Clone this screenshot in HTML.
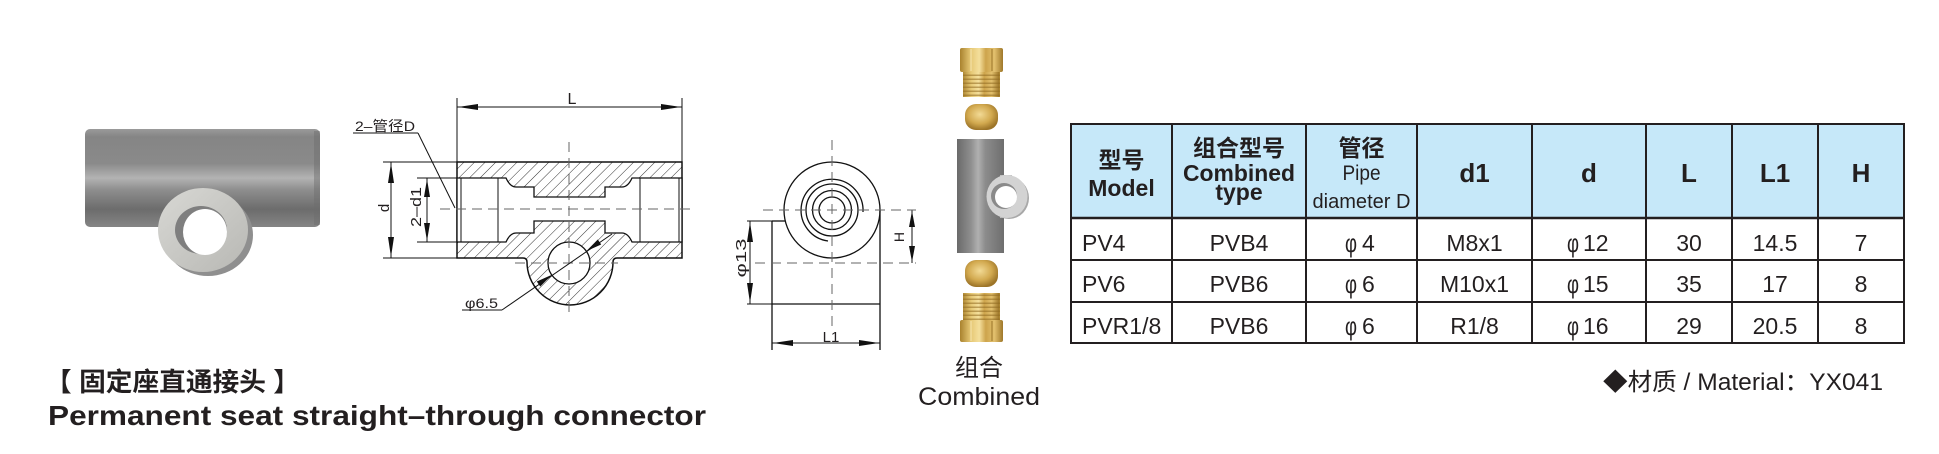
<!DOCTYPE html>
<html><head><meta charset="utf-8"><style>
html,body{margin:0;padding:0;background:#fff;}
svg{display:block;}
text{font-family:"Liberation Sans","Noto Sans CJK SC",sans-serif;fill:#231f20;}
</style></head><body>
<svg width="1939" height="454" viewBox="0 0 1939 454" xmlns="http://www.w3.org/2000/svg">
<defs>
<pattern id="hatch" width="7.5" height="7.5" patternUnits="userSpaceOnUse" patternTransform="rotate(45)">
<line x1="0" y1="0" x2="0" y2="7.5" stroke="#333" stroke-width="1"/>
</pattern>
<linearGradient id="cyl" x1="0" y1="0" x2="0" y2="1">
<stop offset="0" stop-color="#9a9a9a"/>
<stop offset="0.08" stop-color="#858585"/>
<stop offset="0.35" stop-color="#8a8a8a"/>
<stop offset="0.5" stop-color="#b3b3b3"/>
<stop offset="0.62" stop-color="#8e8e8e"/>
<stop offset="0.82" stop-color="#6c6c6c"/>
<stop offset="1" stop-color="#858585"/>
</linearGradient>
<linearGradient id="cyl2" x1="0" y1="0" x2="1" y2="0">
<stop offset="0" stop-color="#6a6a6a"/>
<stop offset="0.3" stop-color="#8f8f8f"/>
<stop offset="0.45" stop-color="#b0b0b0"/>
<stop offset="0.6" stop-color="#8c8c8c"/>
<stop offset="1" stop-color="#6e6e6e"/>
</linearGradient>
<linearGradient id="ring" x1="0" y1="0" x2="1" y2="1">
<stop offset="0" stop-color="#d8d8d4"/>
<stop offset="1" stop-color="#b8b8b4"/>
</linearGradient>
<linearGradient id="brass" x1="0" y1="0" x2="1" y2="0">
<stop offset="0" stop-color="#a9822e"/>
<stop offset="0.25" stop-color="#e6c875"/>
<stop offset="0.45" stop-color="#f4df9c"/>
<stop offset="0.6" stop-color="#cda44c"/>
<stop offset="0.8" stop-color="#e2c06e"/>
<stop offset="1" stop-color="#9f782a"/>
</linearGradient>
<pattern id="thread" width="37" height="4" patternUnits="userSpaceOnUse">
<rect width="37" height="4" fill="url(#brass)"/>
<rect y="2.5" width="37" height="1.5" fill="#8f6a20" opacity="0.55"/>
</pattern>
<radialGradient id="ferr" cx="0.45" cy="0.4" r="0.6">
<stop offset="0" stop-color="#f2da95"/>
<stop offset="0.6" stop-color="#d2a94f"/>
<stop offset="1" stop-color="#9c7428"/>
</radialGradient>
</defs>

<!-- ===== Left photo tee ===== -->
<rect x="85" y="129" width="235" height="98" rx="5" fill="url(#cyl)"/>
<rect x="314" y="131" width="6" height="94" fill="#6c6c6c" opacity="0.45"/>
<ellipse cx="208" cy="235" rx="45" ry="41" fill="#8f8f8f"/>
<ellipse cx="203" cy="230" rx="45" ry="42" fill="url(#ring)"/>
<ellipse cx="201" cy="230" rx="26" ry="24" fill="#7f7f7f"/>
<ellipse cx="205" cy="232" rx="22" ry="23" fill="#fff"/>

<!-- ===== Section drawing ===== -->
<path d="M457,162 H682 V258 H617 Q613,258 613,262 A43,43 0 0,1 527,262 Q527,258 523,258 H457 Z" fill="url(#hatch)" stroke="#111" stroke-width="1.5"/>
<path d="M457,178 L506,178 Q510,187 516,187 L534,187 L534,197 L605,197 L605,187 L622,187 Q628,187 632,178 L682,178 L682,242 L632,242 Q628,233 622,233 L605,233 L605,221 L534,221 L534,233 L516,233 Q510,233 506,242 L457,242 Z" fill="#fff" stroke="#111" stroke-width="1.3"/>
<g stroke="#111" stroke-width="1">
<line x1="461" y1="178" x2="461" y2="242"/>
<line x1="498" y1="178" x2="498" y2="242"/>
<line x1="640" y1="178" x2="640" y2="242"/>
<line x1="679" y1="178" x2="679" y2="242"/>
</g>
<circle cx="569" cy="263" r="21" fill="#fff" stroke="#111" stroke-width="1.3"/>
<g stroke="#666" stroke-width="1" stroke-dasharray="10 6" fill="none">
<line x1="440" y1="209" x2="692" y2="209"/>
<line x1="569" y1="142" x2="569" y2="318"/>
<line x1="515" y1="263" x2="618" y2="263"/>
</g>
<g stroke="#111" stroke-width="1" fill="none">
<line x1="457" y1="98" x2="457" y2="162"/>
<line x1="682" y1="98" x2="682" y2="162"/>
<line x1="457" y1="107" x2="682" y2="107"/>
<line x1="383" y1="162" x2="457" y2="162"/>
<line x1="383" y1="258" x2="457" y2="258"/>
<line x1="391" y1="162" x2="391" y2="258"/>
<line x1="417" y1="178" x2="457" y2="178"/>
<line x1="417" y1="242" x2="457" y2="242"/>
<line x1="427" y1="178" x2="427" y2="242"/>
<line x1="353" y1="133" x2="418" y2="133"/>
<line x1="418" y1="133" x2="455" y2="208"/>
<line x1="462" y1="310" x2="502" y2="310"/>
<line x1="502" y1="310" x2="612" y2="234"/>
</g>
<g fill="#111">
<polygon points="458,107 478,104 478,110"/>
<polygon points="681,107 661,104 661,110"/>
<polygon points="391,163 388,183 394,183"/>
<polygon points="391,257 388,237 394,237"/>
<polygon points="427,179 424,197 430,197"/>
<polygon points="427,241 424,223 430,223"/>
<polygon points="551.7,274.9 540.2,286.5 536.8,281.5"/>
<polygon points="586.3,251.1 601.2,244.5 597.8,239.5"/>
</g>
<text x="572" y="104" font-size="16" text-anchor="middle">L</text>
<text x="355" y="131" font-size="14" textLength="60" lengthAdjust="spacingAndGlyphs">2–管径D</text>
<text transform="translate(389,208) rotate(-90)" font-size="15" text-anchor="middle">d</text>
<text transform="translate(421,207) rotate(-90)" font-size="15" text-anchor="middle" textLength="40" lengthAdjust="spacingAndGlyphs">2–d1</text>
<text x="465" y="308" font-size="14" textLength="33" lengthAdjust="spacingAndGlyphs">φ6.5</text>

<!-- ===== Side view ===== -->
<g stroke="#111" stroke-width="1.3" fill="none">
<circle cx="832" cy="210" r="48"/>
<circle cx="832" cy="210" r="13"/>
<circle cx="832" cy="210" r="19.5"/>
<circle cx="832" cy="210" r="26"/>
<path d="M863,212 A31,31 0 1,0 828,241"/>
<line x1="772" y1="221" x2="785" y2="221"/>
<line x1="772" y1="221" x2="772" y2="350"/>
<line x1="880" y1="210" x2="880" y2="350"/>
<line x1="772" y1="304" x2="880" y2="304"/>
</g>
<g stroke="#111" stroke-width="1" fill="none">
<line x1="747" y1="221" x2="772" y2="221"/>
<line x1="747" y1="304" x2="772" y2="304"/>
<line x1="750" y1="221" x2="750" y2="304"/>
<line x1="912" y1="210" x2="912" y2="263"/>
<line x1="772" y1="343" x2="880" y2="343"/>
</g>
<g stroke="#666" stroke-width="1" stroke-dasharray="10 6" fill="none">
<line x1="763" y1="210" x2="916" y2="210"/>
<line x1="755" y1="263" x2="916" y2="263"/>
<line x1="832" y1="140" x2="832" y2="326"/>
</g>
<g fill="#111">
<polygon points="750,222 747,242 753,242"/>
<polygon points="750,303 747,283 753,283"/>
<polygon points="912,211 909,227 915,227"/>
<polygon points="912,262 909,246 915,246"/>
<polygon points="773,343 793,340 793,346"/>
<polygon points="879,343 859,340 859,346"/>
</g>
<text transform="translate(746,258) rotate(-90)" font-size="15" text-anchor="middle" textLength="39" lengthAdjust="spacingAndGlyphs">φ13</text>
<text transform="translate(904,237) rotate(-90)" font-size="14" text-anchor="middle">H</text>
<text x="831" y="342" font-size="15" text-anchor="middle">L1</text>

<!-- ===== Combined photo ===== -->
<rect x="960" y="48" width="43" height="24" rx="2" fill="url(#brass)"/>
<line x1="971" y1="49" x2="971" y2="71" stroke="#f6e6b0" stroke-width="1"/>
<line x1="992" y1="49" x2="992" y2="71" stroke="#9a7428" stroke-width="1"/>
<rect x="963" y="72" width="37" height="25" fill="url(#thread)"/>
<rect x="965" y="104" width="33" height="26" rx="11" fill="url(#ferr)"/>
<rect x="957" y="139" width="47" height="114" fill="url(#cyl2)"/>
<rect x="1000" y="175" width="12" height="43" fill="#bdbdbd"/>
<ellipse cx="1009" cy="198" rx="20" ry="21" fill="#a8a8a8"/>
<ellipse cx="1007" cy="196.5" rx="20.5" ry="21.5" fill="#d3d3d3"/>
<circle cx="1004" cy="196" r="13" fill="#8a8a8a"/>
<circle cx="1006" cy="197" r="11" fill="#fff"/>
<rect x="965" y="260" width="33" height="27" rx="11" fill="url(#ferr)"/>
<rect x="963" y="293" width="37" height="27" fill="url(#thread)"/>
<rect x="960" y="320" width="43" height="22" rx="2" fill="url(#brass)"/>
<line x1="971" y1="321" x2="971" y2="341" stroke="#f6e6b0" stroke-width="1"/>
<line x1="992" y1="321" x2="992" y2="341" stroke="#9a7428" stroke-width="1"/>
<text x="979" y="376" font-size="24" text-anchor="middle">组合</text>
<text x="979" y="405" font-size="25" text-anchor="middle" textLength="122" lengthAdjust="spacingAndGlyphs">Combined</text>

<!-- ===== Titles ===== -->
<text x="45" y="391" font-size="26" font-weight="bold" textLength="255" lengthAdjust="spacingAndGlyphs">【 固定座直通接头 】</text>
<text x="48" y="425" font-size="28" font-weight="bold" textLength="658" lengthAdjust="spacingAndGlyphs">Permanent seat straight–through connector</text>

<!-- ===== Table ===== -->
<rect x="1071" y="124" width="833" height="94" fill="#c6e8f9"/>
<g stroke="#231f20" stroke-width="2">
<line x1="1071" y1="124" x2="1904" y2="124"/>
<line x1="1071" y1="218" x2="1904" y2="218" stroke-width="2.5"/>
<line x1="1071" y1="260" x2="1904" y2="260"/>
<line x1="1071" y1="302" x2="1904" y2="302"/>
<line x1="1071" y1="343" x2="1904" y2="343"/>
<line x1="1071" y1="123" x2="1071" y2="344"/>
<line x1="1172" y1="123" x2="1172" y2="344"/>
<line x1="1306" y1="123" x2="1306" y2="344"/>
<line x1="1417" y1="123" x2="1417" y2="344"/>
<line x1="1532" y1="123" x2="1532" y2="344"/>
<line x1="1646" y1="123" x2="1646" y2="344"/>
<line x1="1732" y1="123" x2="1732" y2="344"/>
<line x1="1818" y1="123" x2="1818" y2="344"/>
<line x1="1904" y1="123" x2="1904" y2="344"/>
</g>
<g font-weight="bold" text-anchor="middle">
<text x="1121.5" y="168" font-size="23">型号</text>
<text x="1121.5" y="196" font-size="23">Model</text>
<text x="1239" y="156" font-size="23">组合型号</text>
<text x="1239" y="181" font-size="23" textLength="112" lengthAdjust="spacingAndGlyphs">Combined</text>
<text x="1239" y="200" font-size="23">type</text>
<text x="1361.5" y="156" font-size="23">管径</text>
<text x="1474.5" y="182" font-size="26">d1</text>
<text x="1589" y="182" font-size="26">d</text>
<text x="1689" y="182" font-size="26">L</text>
<text x="1775" y="182" font-size="26">L1</text>
<text x="1861" y="182" font-size="26">H</text>
</g>
<text x="1361.5" y="180" font-size="21" text-anchor="middle" textLength="38" lengthAdjust="spacingAndGlyphs">Pipe</text>
<text x="1361.5" y="208" font-size="20" text-anchor="middle" textLength="98" lengthAdjust="spacingAndGlyphs">diameter D</text>

<g font-size="23">
<text x="1082" y="251">PV4</text>
<text x="1082" y="292">PV6</text>
<text x="1082" y="334">PVR1/8</text>
</g>
<g font-size="23" text-anchor="middle">
<text x="1239" y="251">PVB4</text>
<text x="1239" y="292">PVB6</text>
<text x="1239" y="334">PVB6</text>
<text x="1474.5" y="251">M8x1</text>
<text x="1474.5" y="292">M10x1</text>
<text x="1474.5" y="334">R1/8</text>
<text x="1689" y="251">30</text>
<text x="1689" y="292">35</text>
<text x="1689" y="334">29</text>
<text x="1775" y="251">14.5</text>
<text x="1775" y="292">17</text>
<text x="1775" y="334">20.5</text>
<text x="1861" y="251">7</text>
<text x="1861" y="292">8</text>
<text x="1861" y="334">8</text>
</g>
<g font-size="26">
<text x="1345" y="252" textLength="12" lengthAdjust="spacingAndGlyphs">φ</text>
<text x="1345" y="293" textLength="12" lengthAdjust="spacingAndGlyphs">φ</text>
<text x="1345" y="335" textLength="12" lengthAdjust="spacingAndGlyphs">φ</text>
<text x="1567" y="252" textLength="12" lengthAdjust="spacingAndGlyphs">φ</text>
<text x="1567" y="293" textLength="12" lengthAdjust="spacingAndGlyphs">φ</text>
<text x="1567" y="335" textLength="12" lengthAdjust="spacingAndGlyphs">φ</text>
</g>
<g font-size="23">
<text x="1362" y="251">4</text>
<text x="1362" y="292">6</text>
<text x="1362" y="334">6</text>
<text x="1583" y="251">12</text>
<text x="1583" y="292">15</text>
<text x="1583" y="334">16</text>
</g>

<text x="1603" y="390" font-size="24" textLength="280" lengthAdjust="spacingAndGlyphs">◆材质 / Material：YX041</text>
</svg>
</body></html>
